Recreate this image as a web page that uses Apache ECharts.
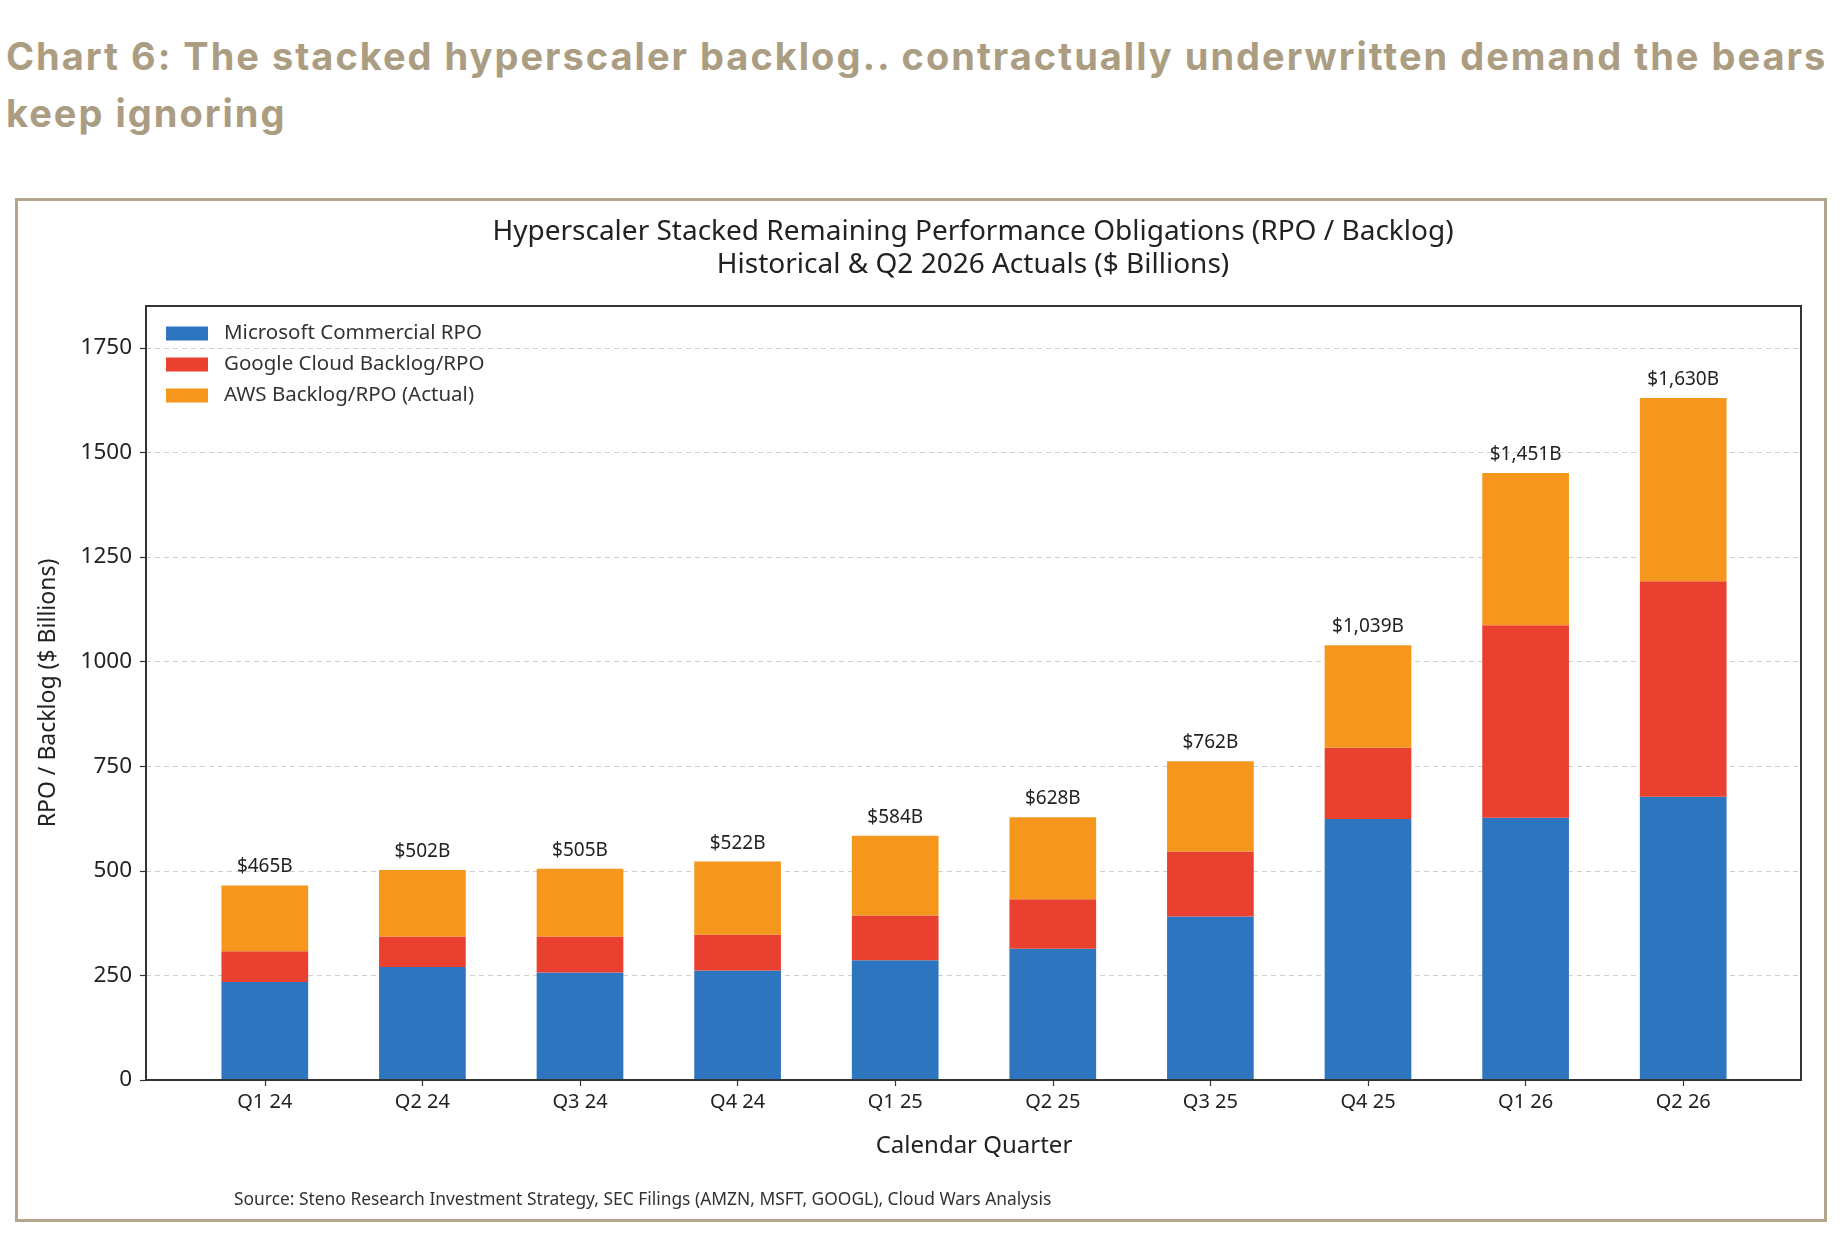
<!DOCTYPE html>
<html>
<head>
<meta charset="utf-8">
<script src="https://cdn.jsdelivr.net/npm/echarts@6/dist/echarts.min.js"></script>
<style>
  html, body { margin: 0; padding: 0; background: #ffffff; }
  #wrap { position: relative; width: 1840px; height: 1236px; overflow: hidden; }
  #heading {
    position: absolute; left: 6px; top: 28px; width: 1834px;
    font-family: Inter, "Noto Sans", sans-serif; font-weight: 700;
    font-size: 38px; line-height: 57px; color: #ab9d82; letter-spacing: 2px;
    white-space: nowrap;
  }
  #box {
    position: absolute; left: 15px; top: 198px; width: 1806px; height: 1018px;
    border: 3.5px solid #b3a68b;
  }
  #chart { position: absolute; left: 0; top: 0; width: 1840px; height: 1236px; }
</style>
</head>
<body>
<div id="wrap">
  <div id="heading">Chart 6: The stacked hyperscaler backlog.. contractually underwritten demand the bears<br>keep ignoring</div>
  <div id="box"></div>
  <div id="chart"></div>
</div>
<script>
// ---- data ($ billions) ----
const quarters = ['Q1 24', 'Q2 24', 'Q3 24', 'Q4 24', 'Q1 25', 'Q2 25', 'Q3 25', 'Q4 25', 'Q1 26', 'Q2 26'];
const microsoftRPO = [234, 270, 257, 262, 286, 314, 391, 624, 627, 677];
const googleRPO    = [74, 73, 86, 85, 107, 118, 155, 170, 460, 515];
const awsRPO       = [157, 159, 162, 175, 191, 196, 216, 245, 364, 438];
const seriesNames = ['Microsoft Commercial RPO', 'Google Cloud Backlog/RPO', 'AWS Backlog/RPO (Actual)'];
const yTicks = [0, 250, 500, 750, 1000, 1250, 1500, 1750];

const totals = quarters.map((q, i) => microsoftRPO[i] + googleRPO[i] + awsRPO[i]);

const FONT = '"Noto Sans", "Open Sans", sans-serif';
const chart = echarts.init(document.getElementById('chart'), null, { renderer: 'canvas' });

const yMax = 1850;
const option = {
  backgroundColor: 'transparent',
  animation: false,
  title: [
    {
      text: 'Hyperscaler Stacked Remaining Performance Obligations (RPO / Backlog)\nHistorical & Q2 2026 Actuals ($ Billions)',
      left: 968, top: 211, textAlign: 'center',
      textStyle: { fontFamily: FONT, fontSize: 28, fontWeight: 'normal', color: '#222222', lineHeight: 33 }
    },
    {
      text: 'Source: Steno Research Investment Strategy, SEC Filings (AMZN, MSFT, GOOGL), Cloud Wars Analysis',
      left: 229, top: 1187,
      textStyle: { fontFamily: FONT, fontSize: 17.4, fontWeight: 'normal', color: '#333333' }
    }
  ],
  legend: {
    orient: 'vertical', left: 161, top: 318,
    itemWidth: 42, itemHeight: 14, itemGap: 10,
    data: seriesNames,
    icon: 'rect',
    textStyle: { fontFamily: FONT, fontSize: 20.5, color: '#333333', lineHeight: 21, padding: [0, 0, 0, 11] }
  },
  grid: [
    { left: 146, right: 39, top: 306, bottom: 156, show: true, borderColor: '#333333', borderWidth: 2, backgroundColor: 'transparent', z: 10 },
    { left: 186, right: 78, top: 306, bottom: 156 }
  ],
  xAxis: [
    { gridIndex: 0, type: 'value', show: false, min: 0, max: 1 },
    {
      gridIndex: 1, type: 'category', data: quarters,
      axisLine: { show: false },
      axisTick: { show: true, alignWithLabel: true, length: 6, lineStyle: { color: '#333333', width: 1.2 } },
      axisLabel: { fontFamily: FONT, fontSize: 20, color: '#222222', margin: 12 },
      name: 'Calendar Quarter', nameLocation: 'middle', nameGap: 54,
      nameTextStyle: { fontFamily: FONT, fontSize: 24, color: '#222222' }
    }
  ],
  yAxis: [
    {
      gridIndex: 0, type: 'value', min: 0, max: yMax, interval: 250,
      axisLine: { show: false },
      axisTick: { show: true, length: 6, lineStyle: { color: '#333333', width: 1.2 } },
      axisLabel: {
        fontFamily: FONT, fontSize: 22.5, color: '#222222', margin: 14, showMaxLabel: false,
        formatter: v => (yTicks.indexOf(v) >= 0 ? String(v) : '')
      },
      splitLine: { show: true, showMinLine: false, showMaxLine: false, lineStyle: { color: '#cfcfcf', type: [5, 4], width: 1 } },
      name: 'RPO / Backlog ($ Billions)', nameLocation: 'middle', nameGap: 86,
      nameTextStyle: { fontFamily: FONT, fontSize: 23, color: '#222222' }
    },
    { gridIndex: 1, type: 'value', min: 0, max: yMax, show: false, splitLine: { show: false } }
  ],
  series: [
    {
      name: seriesNames[0], type: 'bar', stack: 'rpo', xAxisIndex: 1, yAxisIndex: 1,
      barWidth: '55%', data: microsoftRPO, itemStyle: { color: '#2e75bf' }
    },
    {
      name: seriesNames[1], type: 'bar', stack: 'rpo', xAxisIndex: 1, yAxisIndex: 1,
      barWidth: '55%', data: googleRPO, itemStyle: { color: '#e9402f' }
    },
    {
      name: seriesNames[2], type: 'bar', stack: 'rpo', xAxisIndex: 1, yAxisIndex: 1,
      barWidth: '55%', data: awsRPO, itemStyle: { color: '#f5961d' },
      label: {
        show: true, position: 'top', distance: 9,
        fontFamily: FONT, fontSize: 19, color: '#222222',
        formatter: p => '$' + totals[p.dataIndex].toLocaleString('en-US') + 'B'
      }
    }
  ]
};
chart.setOption(option);
</script>
</body>
</html>
